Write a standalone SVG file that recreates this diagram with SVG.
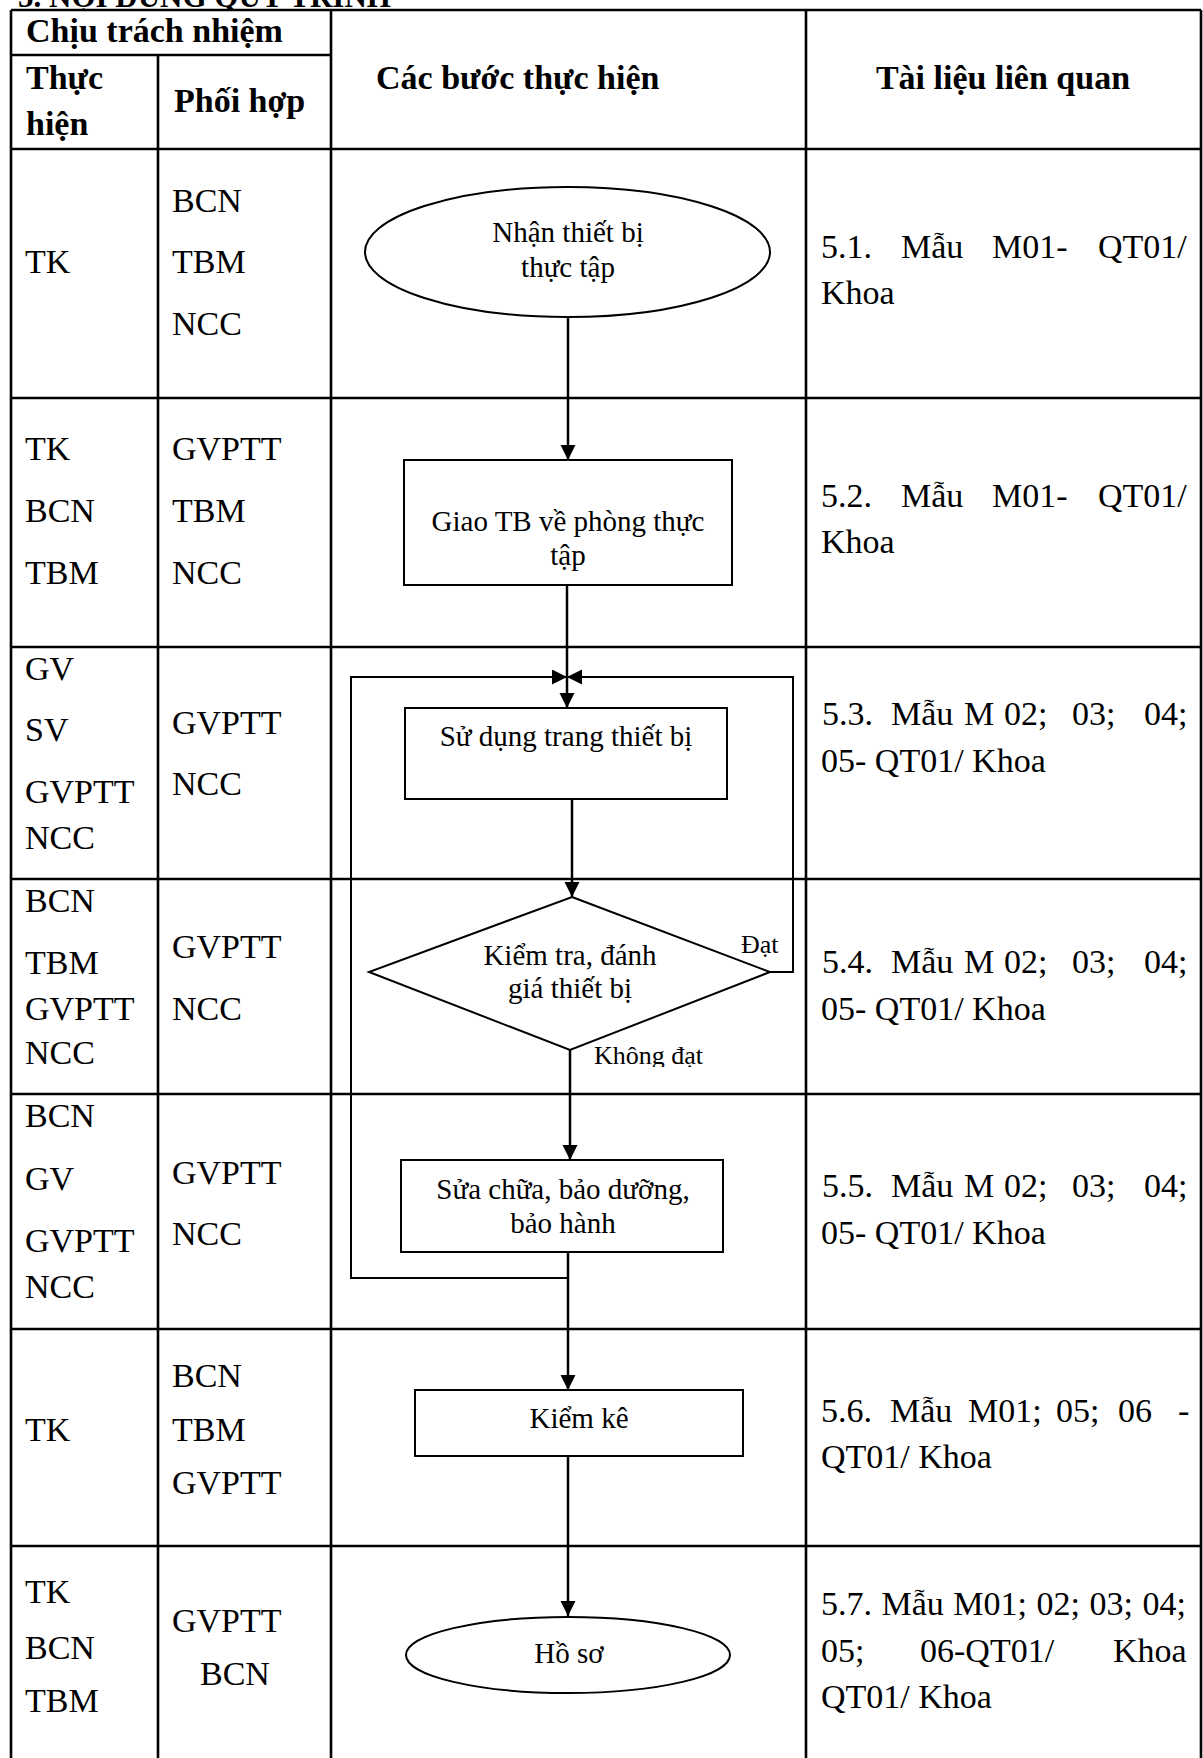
<svg xmlns="http://www.w3.org/2000/svg" width="1203" height="1758" viewBox="0 0 1203 1758">
<style>
.t{font-family:"Liberation Serif","Times New Roman",serif;font-size:34px;fill:#000}
.b{font-weight:bold}
.f{font-size:29px}
.m{text-anchor:middle}
.grid{stroke:#000;stroke-width:2.6;fill:none}
.shape{fill:#fff;stroke:#000;stroke-width:2}
.conn{stroke:#000;stroke-width:2.5;fill:none}
.loop{stroke:#000;stroke-width:2;fill:none}
</style>
<defs>
<marker id="ah" markerWidth="16" markerHeight="16" refX="15" refY="7.5" orient="auto" markerUnits="userSpaceOnUse"><path d="M0,0 L15,7.5 L0,15 z" fill="#000"/></marker>
<clipPath id="clipTop"><rect x="0" y="0" width="1203" height="9"/></clipPath>
<clipPath id="clipKd"><rect x="580" y="1030" width="140" height="37"/></clipPath>
</defs>
<rect width="1203" height="1758" fill="#fff"/>

<g id="title" clip-path="url(#clipTop)">
<text class="t b" x="18" y="7" style="font-size:31px">5. NỘI DUNG QUY TRÌNH</text>
</g>

<g id="table">
<line class="grid" x1="11" y1="10" x2="1201" y2="10"/>
<line class="grid" x1="11" y1="55" x2="331" y2="55"/>
<line class="grid" x1="11" y1="149" x2="1201" y2="149"/>
<line class="grid" x1="11" y1="398" x2="1201" y2="398"/>
<line class="grid" x1="11" y1="647" x2="1201" y2="647"/>
<line class="grid" x1="11" y1="879" x2="1201" y2="879"/>
<line class="grid" x1="11" y1="1094" x2="1201" y2="1094"/>
<line class="grid" x1="11" y1="1329" x2="1201" y2="1329"/>
<line class="grid" x1="11" y1="1546" x2="1201" y2="1546"/>
<line class="grid" x1="11" y1="10" x2="11" y2="1758"/>
<line class="grid" x1="158" y1="55" x2="158" y2="1758"/>
<line class="grid" x1="331" y1="10" x2="331" y2="1758"/>
<line class="grid" x1="806" y1="10" x2="806" y2="1758"/>
<line class="grid" x1="1201" y1="10" x2="1201" y2="1758"/>
</g>

<g id="header">
<text class="t b" x="26" y="42">Chịu trách nhiệm</text>
<text class="t b" x="26" y="89">Thực</text>
<text class="t b" x="26" y="135">hiện</text>
<text class="t b" x="174" y="112">Phối hợp</text>
<text class="t b" x="376" y="89">Các bước thực hiện</text>
<text class="t b m" x="1003" y="89">Tài liệu liên quan</text>
</g>

<g id="responsibility">
<text class="t" x="25" y="273">TK</text>
<text class="t" x="172" y="212">BCN</text>
<text class="t" x="172" y="273">TBM</text>
<text class="t" x="172" y="335">NCC</text>

<text class="t" x="25" y="460">TK</text>
<text class="t" x="25" y="522">BCN</text>
<text class="t" x="25" y="584">TBM</text>
<text class="t" x="172" y="460">GVPTT</text>
<text class="t" x="172" y="522">TBM</text>
<text class="t" x="172" y="584">NCC</text>

<text class="t" x="25" y="680">GV</text>
<text class="t" x="25" y="741">SV</text>
<text class="t" x="25" y="803">GVPTT</text>
<text class="t" x="25" y="849">NCC</text>
<text class="t" x="172" y="734">GVPTT</text>
<text class="t" x="172" y="795">NCC</text>

<text class="t" x="25" y="912">BCN</text>
<text class="t" x="25" y="974">TBM</text>
<text class="t" x="25" y="1020">GVPTT</text>
<text class="t" x="25" y="1064">NCC</text>
<text class="t" x="172" y="958">GVPTT</text>
<text class="t" x="172" y="1020">NCC</text>

<text class="t" x="25" y="1127">BCN</text>
<text class="t" x="25" y="1190">GV</text>
<text class="t" x="25" y="1252">GVPTT</text>
<text class="t" x="25" y="1298">NCC</text>
<text class="t" x="172" y="1184">GVPTT</text>
<text class="t" x="172" y="1245">NCC</text>

<text class="t" x="25" y="1441">TK</text>
<text class="t" x="172" y="1387">BCN</text>
<text class="t" x="172" y="1441">TBM</text>
<text class="t" x="172" y="1494">GVPTT</text>

<text class="t" x="25" y="1603">TK</text>
<text class="t" x="25" y="1659">BCN</text>
<text class="t" x="25" y="1712">TBM</text>
<text class="t" x="172" y="1632">GVPTT</text>
<text class="t" x="200" y="1685">BCN</text>
</g>

<g id="documents">
<text class="t" y="258"><tspan x="821">5.1.</tspan><tspan x="901">Mẫu</tspan><tspan x="992">M01-</tspan><tspan x="1098">QT01/</tspan></text>
<text class="t" x="821" y="304">Khoa</text>
<text class="t" y="507"><tspan x="821">5.2.</tspan><tspan x="901">Mẫu</tspan><tspan x="992">M01-</tspan><tspan x="1098">QT01/</tspan></text>
<text class="t" x="821" y="553">Khoa</text>
<text class="t" y="725"><tspan x="822">5.3.</tspan><tspan x="891">Mẫu</tspan><tspan x="964">M</tspan><tspan x="1004">02;</tspan><tspan x="1072">03;</tspan><tspan x="1144">04;</tspan></text>
<text class="t" x="821" y="772">05- QT01/ Khoa</text>
<text class="t" y="973"><tspan x="822">5.4.</tspan><tspan x="891">Mẫu</tspan><tspan x="964">M</tspan><tspan x="1004">02;</tspan><tspan x="1072">03;</tspan><tspan x="1144">04;</tspan></text>
<text class="t" x="821" y="1020">05- QT01/ Khoa</text>
<text class="t" y="1197"><tspan x="822">5.5.</tspan><tspan x="891">Mẫu</tspan><tspan x="964">M</tspan><tspan x="1004">02;</tspan><tspan x="1072">03;</tspan><tspan x="1144">04;</tspan></text>
<text class="t" x="821" y="1244">05- QT01/ Khoa</text>
<text class="t" y="1422"><tspan x="821">5.6.</tspan><tspan x="890">Mẫu</tspan><tspan x="968">M01;</tspan><tspan x="1056">05;</tspan><tspan x="1118">06</tspan><tspan x="1178">-</tspan></text>
<text class="t" x="821" y="1468">QT01/ Khoa</text>
<text class="t" x="821" y="1615" style="word-spacing:1px">5.7. Mẫu M01; 02; 03; 04;</text>
<text class="t" y="1662"><tspan x="821">05;</tspan><tspan x="920">06-QT01/</tspan><tspan x="1113">Khoa</tspan></text>
<text class="t" x="821" y="1708">QT01/ Khoa</text>
</g>

<g id="connectors">
<line class="conn" x1="568" y1="317" x2="568" y2="460" marker-end="url(#ah)"/>
<line class="conn" x1="567" y1="585" x2="567" y2="708" marker-end="url(#ah)"/>
<polyline class="loop" points="568,1278 351,1278 351,677 567,677" marker-end="url(#ah)"/>
<polyline class="loop" points="770,972 793,972 793,677 567,677" marker-end="url(#ah)"/>
<line class="conn" x1="572" y1="799" x2="572" y2="897" marker-end="url(#ah)"/>
<line class="conn" x1="570" y1="1050" x2="570" y2="1160" marker-end="url(#ah)"/>
<line class="conn" x1="568" y1="1252" x2="568" y2="1390" marker-end="url(#ah)"/>
<line class="conn" x1="568" y1="1456" x2="568" y2="1616" marker-end="url(#ah)"/>
</g>

<g id="n1">
<ellipse class="shape" cx="567.5" cy="252" rx="202.5" ry="65"/>
<text class="t f m" x="568" y="242">Nhận thiết bị</text>
<text class="t f m" x="568" y="277">thực tập</text>
</g>
<g id="n2">
<rect class="shape" x="404" y="460" width="328" height="125"/>
<text class="t f m" x="568" y="531">Giao TB về phòng thực</text>
<text class="t f m" x="568" y="565">tập</text>
</g>
<g id="n3">
<rect class="shape" x="405" y="708" width="322" height="91"/>
<text class="t f m" x="566" y="746">Sử dụng trang thiết bị</text>
</g>
<g id="n4">
<polygon class="shape" points="572,897 770,972 570,1050 369,972"/>
<text class="t f m" x="570" y="965">Kiểm tra, đánh</text>
<text class="t f m" x="570" y="998">giá thiết bị</text>
</g>
<g id="labels">
<text class="t f" x="741" y="953" style="font-size:26px">Đạt</text>
<g clip-path="url(#clipKd)"><text class="t f" x="594" y="1064" style="font-size:26px">Không đạt</text></g>
</g>
<g id="n5">
<rect class="shape" x="401" y="1160" width="322" height="92"/>
<text class="t f m" x="563" y="1199">Sửa chữa, bảo dưỡng,</text>
<text class="t f m" x="563" y="1233">bảo hành</text>
</g>
<g id="n6">
<rect class="shape" x="415" y="1390" width="328" height="66"/>
<text class="t f m" x="579" y="1428">Kiểm kê</text>
</g>
<g id="n7">
<ellipse class="shape" cx="568" cy="1655" rx="162" ry="38"/>
<text class="t f m" x="569" y="1663">Hồ sơ</text>
</g>
</svg>
